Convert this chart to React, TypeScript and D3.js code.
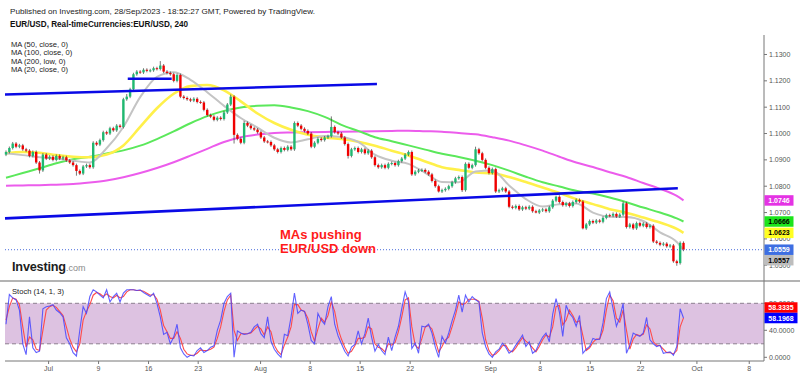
import React from "react";
import * as d3 from "d3";

// ---------- DATA ----------
// 8-hour candles, closes in pips above 1.0000 (price = 1 + v / 10000)
const firstOpen = 920;
const closes = [
  930, 945, 962, 950, 955, 940, 935, 915, 930, 890,
  860, 920, 905, 912, 900, 915, 905, 910, 898, 890,
  880, 858, 848, 875, 880, 872, 965, 958, 975, 1005,
  1000, 1020, 1012, 1030, 1025, 1130, 1140, 1168, 1225, 1235,
  1232, 1242, 1238, 1240, 1248, 1245, 1258, 1235, 1230, 1225,
  1200, 1222, 1140, 1135, 1130, 1125, 1132, 1120, 1118, 1090,
  1070, 1064, 1052, 1060, 1055, 1080, 1110, 1140, 995, 980,
  965, 1040, 1030, 1020, 1015, 1005, 985, 970, 968, 955,
  940, 930, 945, 938, 950, 940, 1040, 1030, 1018, 1010,
  1000, 950, 965, 980, 975, 985, 990, 1025, 1005, 1000,
  985, 960, 915, 940, 945, 930, 940, 925, 935, 910,
  880, 872, 880, 870, 885, 888, 880, 895, 905, 920,
  930, 845, 855, 860, 862, 855, 845, 820, 800, 780,
  785, 790, 800, 815, 830, 835, 785, 885, 870, 880,
  940, 925, 900, 870, 850, 865, 780, 785, 792, 780,
  722, 718, 725, 712, 720, 715, 722, 705, 700, 708,
  712, 705, 720, 745, 760, 740, 728, 735, 725, 740,
  748, 742, 640, 655, 668, 662, 670, 665, 680, 690,
  688, 695, 685, 692, 735, 645, 655, 640, 660, 650,
  658, 645, 650, 590, 585, 578, 582, 572, 575, 515,
  508, 585, 559,
];
// notable wick extremes [bar, pips]
const spikeHighs: [number, number][] = [
  [2, 968], [36, 1150], [46, 1275], [67, 1148], [71, 1048], [86, 1046],
  [97, 1065], [140, 950], [164, 764], [184, 742],
];
const spikeLows: [number, number][] = [
  [10, 848], [21, 840], [68, 962], [102, 905], [129, 776], [136, 778],
  [158, 697], [172, 636], [200, 498],
];

// moving averages sampled every 5 bars (last sample = bar 202), pips
const ma200Low = [802, 803, 804, 806, 808, 814, 822, 834, 850, 869, 891, 916, 942, 968, 986, 996, 1002, 1004, 1005, 1006, 1007, 1008, 1009, 1010, 1011, 1009, 1007, 1002, 997, 986, 973, 955, 935, 912, 890, 873, 853, 835, 812, 790, 763, 746];
const ma100 = [832, 850, 868, 887, 902, 912, 924, 936, 954, 979, 1008, 1039, 1066, 1086, 1099, 1105, 1107, 1099, 1085, 1063, 1033, 1010, 986, 971, 955, 939, 923, 911, 897, 880, 859, 836, 815, 799, 783, 772, 757, 739, 719, 700, 678, 666];
const ma50 = [925, 930, 927, 918, 912, 910, 920, 955, 1025, 1096, 1151, 1180, 1184, 1164, 1122, 1076, 1040, 1014, 995, 985, 979, 969, 954, 935, 917, 894, 872, 862, 852, 849, 835, 816, 795, 774, 751, 732, 713, 699, 681, 662, 638, 623];
const ma20 = [925, 918, 910, 905, 897, 890, 944, 1025, 1138, 1215, 1233, 1204, 1157, 1105, 1059, 1022, 984, 966, 978, 991, 987, 968, 920, 897, 885, 851, 816, 815, 856, 860, 803, 751, 723, 732, 734, 700, 684, 683, 668, 625, 588, 557];

// trend lines [bar, price]
const upperLine: [number, number][] = [[-0.3, 1.1148], [110.6, 1.1188]];
const topLine: [number, number][] = [[36.3, 1.1208], [49.4, 1.1208]];
const lowerLine: [number, number][] = [[-0.3, 1.0678], [200.3, 1.0792]];

// stochastic (14,1,3)
const stochK = [
  49, 93, 88, 85, 70, 20, 4, 60, 14, 7,
  9, 72, 75, 76, 78, 70, 66, 60, 29, 20,
  7, 2, 40, 75, 65, 90, 100, 97, 92, 88,
  100, 82, 90, 95, 82, 95, 100, 100, 100, 99,
  100, 96, 93, 90, 95, 80, 60, 34, 37, 20,
  30, 49, 14, 5, 0, 3, 2, 10, 14, 7,
  10, 15, 17, 40, 55, 80, 90, 95, 0, 39,
  36, 34, 35, 37, 45, 49, 35, 29, 60, 24,
  12, 5, 0, 34, 32, 60, 95, 65, 70, 68,
  49, 25, 20, 65, 55, 49, 75, 90, 49, 32,
  20, 9, 2, 15, 19, 39, 20, 35, 58, 30,
  9, 19, 10, 4, 30, 10, 30, 46, 72, 97,
  82, 13, 21, 6, 46, 45, 49, 36, 15, 0,
  31, 21, 36, 54, 70, 92, 67, 92, 82, 90,
  85, 82, 36, 16, 5, 0, 8, 12, 21, 15,
  6, 10, 18, 25, 33, 16, 23, 6, 10, 21,
  30, 36, 23, 64, 87, 67, 31, 77, 65, 59,
  46, 62, 6, 12, 16, 28, 26, 27, 51, 87,
  97, 72, 46, 59, 80, 6, 18, 36, 33, 31,
  36, 59, 26, 20, 16, 18, 6, 7, 8, 3,
  16, 72, 58.1968,
];
const stochD = [
  55, 75, 88, 86, 78, 45, 15, 30, 26, 12,
  10, 40, 70, 75, 77, 74, 68, 62, 45, 27,
  15, 8, 20, 55, 68, 78, 92, 96, 94, 90,
  94, 90, 88, 92, 88, 90, 97, 100, 100, 99,
  99, 98, 95, 92, 93, 86, 70, 47, 38, 28,
  28, 38, 28, 12, 5, 3, 3, 6, 11, 10,
  10, 12, 15, 28, 45, 68, 85, 92, 40, 25,
  35, 35, 35, 36, 41, 46, 42, 33, 45, 38,
  18, 9, 4, 18, 30, 45, 78, 78, 70, 68,
  58, 38, 24, 42, 58, 52, 62, 82, 68, 42,
  27, 15, 6, 9, 17, 28, 28, 30, 45, 42,
  20, 15, 13, 8, 20, 18, 22, 38, 60, 85,
  88, 45, 18, 13, 28, 45, 47, 42, 25, 8,
  16, 26, 30, 45, 62, 82, 78, 80, 86, 86,
  86, 83, 58, 26, 10, 3, 5, 10, 17, 18,
  10, 8, 14, 22, 29, 24, 20, 14, 8, 16,
  26, 33, 30, 45, 75, 77, 48, 55, 70, 62,
  52, 54, 32, 10, 14, 22, 27, 27, 40, 70,
  92, 84, 58, 52, 70, 40, 12, 27, 34, 32,
  34, 48, 42, 23, 18, 17, 12, 7, 7, 5,
  10, 45, 58.3335,
];

// x-axis labels [text, bar position]
const xTicks: [string, number][] = [
  ["Jul", 12.7], ["9", 27.6], ["16", 42.5], ["23", 57.3], ["Aug", 75.9], ["8", 90.7],
  ["15", 105.6], ["22", 120.5], ["Sep", 144.5], ["8", 159.3], ["15", 174.2],
  ["22", 189.2], ["Oct", 206], ["8", 221.6],
];
const priceTicks = [1.05, 1.06, 1.07, 1.08, 1.09, 1.1, 1.11, 1.12, 1.13];
const stochTicks = [0, 40, 80];
const maLegend = ["MA (50, close, 0)", "MA (100, close, 0)", "MA (200, low, 0)", "MA (20, close, 0)"];

// ---------- CHART ----------
const FONT = "'Liberation Sans', Arial, Helvetica, sans-serif";
const px = (v: number) => 1 + v / 10000;

export default function App() {
  const x = d3.scaleLinear().domain([0, 226]).range([6, 764]);
  const y = d3.scaleLinear().domain([1.0444, 1.1374]).range([280, 35]);
  const ys = d3.scaleLinear().domain([0, 100]).range([357.3, 289.8]);
  const f4 = d3.format(".4f");

  const hiMap = new Map(spikeHighs);
  const loMap = new Map(spikeLows);
  const candles = closes.map((c, i) => {
    const o = i === 0 ? firstOpen : closes[i - 1];
    return { i, o: px(o), c: px(c), h: hiMap.has(i) ? px(hiMap.get(i)!) : null, l: loMap.has(i) ? px(loMap.get(i)!) : null };
  });

  const maIdx = [...d3.range(0, 201, 5), 202];
  const maLine = d3
    .line<number>()
    .x((_, k) => x(maIdx[k]))
    .y((v) => y(px(v)))
    .curve(d3.curveMonotoneX);
  const trend = d3
    .line<[number, number]>()
    .x((d) => x(d[0]))
    .y((d) => y(d[1]));
  const stochLine = d3
    .line<number>()
    .x((_, i) => x(i))
    .y((v) => ys(v));

  const lastClose = px(closes[closes.length - 1]);
  const tagH = 10.5;
  const fixedY = y(lastClose);
  const tags = [
    { v: px(ma200Low[ma200Low.length - 1]), fill: "#e433e4", tc: "#fff" },
    { v: px(ma100[ma100.length - 1]), fill: "#1be41b", tc: "#000" },
    { v: px(ma50[ma50.length - 1]), fill: "#ffff22", tc: "#000" },
    { v: px(ma20[ma20.length - 1]), fill: "#bdbdbd", tc: "#000" },
  ].map((t) => {
    let ty = y(t.v);
    if (Math.abs(ty - fixedY) < tagH) ty = t.v < lastClose ? fixedY + tagH : fixedY - tagH;
    return { ...t, ty };
  });

  const kLast = stochK[stochK.length - 1];
  const dLast = stochD[stochD.length - 1];
  const kY = ys(kLast);
  let dY = ys(dLast);
  if (Math.abs(dY - kY) < tagH) dY = dLast > kLast ? kY - tagH : kY + tagH;

  const axisX = 764;
  const labelColor = "#555";

  return (
    <svg width={800} height={376} style={{ position: "absolute", left: 0, top: 0 }} fontFamily={FONT}>
      <rect width={800} height={376} fill="#fff" />

      {/* header */}
      <text x={10} y={11} dominantBaseline="central" fontSize={7.6} fill="#222" textLength={305} lengthAdjust="spacingAndGlyphs">
        Published on Investing.com, 28/Sep/2023 - 18:52:27 GMT, Powered by TradingView.
      </text>
      <text x={10} y={24.5} dominantBaseline="central" fontSize={8.2} fontWeight="bold" fill="#111" textLength={178} lengthAdjust="spacingAndGlyphs">
        EUR/USD, Real-timeCurrencies:EUR/USD, 240
      </text>
      {maLegend.map((t, k) => (
        <text key={t} x={11} y={44 + k * 8.5} dominantBaseline="central" fontSize={7.6} fill="#222">
          {t}
        </text>
      ))}

      {/* stochastic band */}
      <rect x={5} y={ys(80)} width={axisX - 5} height={ys(20) - ys(80)} fill="#ddc2e1" />
      {[80, 20].map((v) => (
        <line key={v} x1={5} x2={axisX} y1={ys(v)} y2={ys(v)} stroke="#8d7f8f" strokeWidth={1} strokeDasharray="4,3" />
      ))}

      {/* moving averages */}
      <path d={maLine(ma200Low)!} fill="none" stroke="#ec5cec" strokeWidth={2} />
      <path d={maLine(ma100)!} fill="none" stroke="#5be85b" strokeWidth={2} />
      <path d={maLine(ma50)!} fill="none" stroke="#fff04a" strokeWidth={2.6} />
      <path d={maLine(ma20)!} fill="none" stroke="#c4c4c4" strokeWidth={2} />

      {/* candles */}
      {candles.map((d) => {
        const top = Math.max(d.o, d.c);
        const bot = Math.min(d.o, d.c);
        const yTop = y(top);
        const yBot = y(bot);
        const wickTop = d.h != null ? y(d.h) : yTop - 1.5;
        const wickBot = d.l != null ? y(d.l) : yBot + 1.5;
        const up = d.c >= d.o;
        return (
          <g key={d.i}>
            <line x1={x(d.i)} x2={x(d.i)} y1={wickTop} y2={wickBot} stroke="#3a3a3a" strokeWidth={0.7} />
            <rect x={x(d.i) - 1.2} y={yTop} width={2.4} height={Math.max(1, yBot - yTop)} fill={up ? "#1fb870" : "#f00000"} />
          </g>
        );
      })}

      {/* trend lines */}
      <path d={trend(upperLine)!} stroke="#0a0ae6" strokeWidth={2.6} fill="none" />
      <path d={trend(topLine)!} stroke="#0a0ae6" strokeWidth={2.6} fill="none" />
      <path d={trend(lowerLine)!} stroke="#0a0ae6" strokeWidth={2.6} fill="none" />

      {/* last price line */}
      <line x1={5} x2={axisX} y1={fixedY} y2={fixedY} stroke="#4a6ddc" strokeWidth={1} strokeDasharray="1,2" />

      {/* annotation */}
      <text x={280} y={238.5} fontSize={13} fontWeight="bold" fill="#ff1a1a">MAs pushing</text>
      <text x={280} y={252.5} fontSize={13} fontWeight="bold" fill="#ff1a1a">EUR/USD down</text>

      {/* logo */}
      <text x={12} y={270.7} fontSize={12.7} fontWeight="bold" fill="#1d1d1d" letterSpacing={-0.2}>
        Investing<tspan fontSize={9} fontWeight="normal" fill="#8a8a8a" letterSpacing={0}>.com</tspan>
      </text>

      {/* stochastic lines */}
      <path d={stochLine(stochD)!} fill="none" stroke="#ff4a4a" strokeWidth={1.1} />
      <path d={stochLine(stochK)!} fill="none" stroke="#4545ff" strokeOpacity={0.85} strokeWidth={1.1} />
      <text x={12} y={291} dominantBaseline="central" fontSize={7.6} fill="#222">Stoch (14, 1, 3)</text>

      {/* pane separator and axes */}
      <line x1={0} x2={800} y1={281} y2={281} stroke="#b3b3b3" strokeWidth={2} />
      <line x1={axisX} x2={axisX} y1={35} y2={361} stroke="#777" strokeWidth={1} />
      <line x1={5} x2={axisX} y1={361} y2={361} stroke="#777" strokeWidth={1} />

      {priceTicks.map((p) => (
        <g key={p}>
          <line x1={axisX} x2={axisX + 3} y1={y(p)} y2={y(p)} stroke="#777" />
          <text x={769} y={y(p)} dominantBaseline="central" fontSize={7} fill={labelColor}>{f4(p)}</text>
        </g>
      ))}
      {stochTicks.map((v) => (
        <g key={v}>
          <line x1={axisX} x2={axisX + 3} y1={ys(v)} y2={ys(v)} stroke="#777" />
          <text x={769} y={ys(v)} dominantBaseline="central" fontSize={7} fill={labelColor}>{f4(v)}</text>
        </g>
      ))}
      {xTicks.map(([t, i], k) => (
        <g key={k}>
          <line x1={x(i)} x2={x(i)} y1={361} y2={364} stroke="#777" />
          <text x={x(i)} y={368.5} textAnchor="middle" dominantBaseline="central" fontSize={7} fill={labelColor}>{t}</text>
        </g>
      ))}

      {/* price tags */}
      {tags.map((t, k) => (
        <g key={k}>
          <rect x={axisX + 0.5} y={t.ty - tagH / 2} width={29} height={tagH} fill={t.fill} />
          <text x={axisX + 15} y={t.ty} textAnchor="middle" dominantBaseline="central" fontSize={7} fontWeight="bold" fill={t.tc}>{f4(t.v)}</text>
        </g>
      ))}
      <rect x={axisX + 0.5} y={fixedY - tagH / 2} width={29} height={tagH} fill="#3e6fe2" />
      <text x={axisX + 15} y={fixedY} textAnchor="middle" dominantBaseline="central" fontSize={7} fontWeight="bold" fill="#fff">{f4(lastClose)}</text>

      <rect x={axisX + 0.5} y={dY - tagH / 2} width={33} height={tagH} fill="#ff0000" />
      <text x={axisX + 17} y={dY} textAnchor="middle" dominantBaseline="central" fontSize={7} fontWeight="bold" fill="#fff">{f4(dLast)}</text>
      <rect x={axisX + 0.5} y={kY - tagH / 2} width={33} height={tagH} fill="#0000ff" />
      <text x={axisX + 17} y={kY} textAnchor="middle" dominantBaseline="central" fontSize={7} fontWeight="bold" fill="#fff">{f4(kLast)}</text>
    </svg>
  );
}
